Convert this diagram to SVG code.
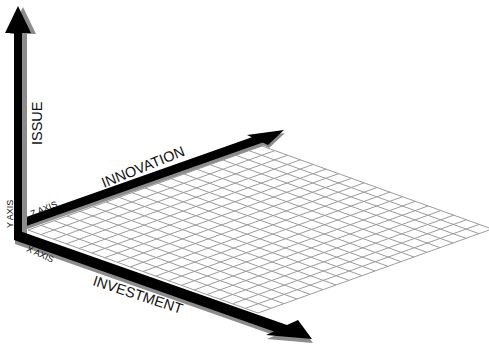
<svg xmlns="http://www.w3.org/2000/svg" width="489" height="345" viewBox="0 0 489 345">
<style>
.sh{fill:#8c8c8c}
.ax{fill:#000}
.grid{fill:none;stroke:#9c9c9c;stroke-width:1}
.big{font-family:"Liberation Sans",Arial,sans-serif;font-size:14.5px;fill:#111}
.small{font-family:"Liberation Sans",Arial,sans-serif;font-size:9px;fill:#111}
</style>
<defs>
<path id="zax" d="M22,218.5 L251.9,137.3 L247,135 L284,130 L268,145 L262.7,142.5 L22,227.5Z"/>
<path id="xax" d="M14,229 L287,325 L298,320 L312,339 L266,335 L274,331.4 L14,240Z"/>
<path id="yax" d="M14,236 L14,33 L5,33 L18,6 L31,33 L22,33 L22,236Z"/>
</defs>
<rect width="489" height="345" fill="#fff"/>
<g id="plane">
<path class="grid" vector-effect="non-scaling-stroke" transform="matrix(13,-4.6667,12.7778,4.6111,28,230)" d="M0 0H18M0 1H18M0 2H18M0 3H18M0 4H18M0 5H18M0 6H18M0 7H18M0 8H18M0 9H18M0 10H18M0 11H18M0 12H18M0 13H18M0 14H18M0 15H18M0 16H18M0 17H18M0 18H18M0 0V18M1 0V18M2 0V18M3 0V18M4 0V18M5 0V18M6 0V18M7 0V18M8 0V18M9 0V18M10 0V18M11 0V18M12 0V18M13 0V18M14 0V18M15 0V18M16 0V18M17 0V18M18 0V18"/>
</g>
<g id="connectors">
<g id="z-axis">
<use href="#zax" class="sh" transform="translate(1,3)"/>
<use href="#zax" class="ax"/>
</g>
<g id="x-axis-shadow">
<use href="#xax" class="sh" transform="translate(1,4)"/>
</g>
<g id="y-axis">
<use href="#yax" class="sh" transform="translate(5,1)"/>
<use href="#yax" class="ax"/>
</g>
<g id="x-axis">
<use href="#xax" class="ax"/>
</g>
</g>
<g id="labels">
<text class="big" transform="translate(42,145) rotate(-90)">ISSUE</text>
<text class="big" transform="translate(104,188) rotate(-22)">INNOVATION</text>
<text class="big" transform="translate(92,285) rotate(18)">INVESTMENT</text>
<text class="small" transform="translate(13,228) rotate(-90)">Y AXIS</text>
<text class="small" transform="translate(32,217) rotate(-22)">Z AXIS</text>
<text class="small" transform="translate(26,251) rotate(24)">X AXIS</text>
</g>
</svg>
